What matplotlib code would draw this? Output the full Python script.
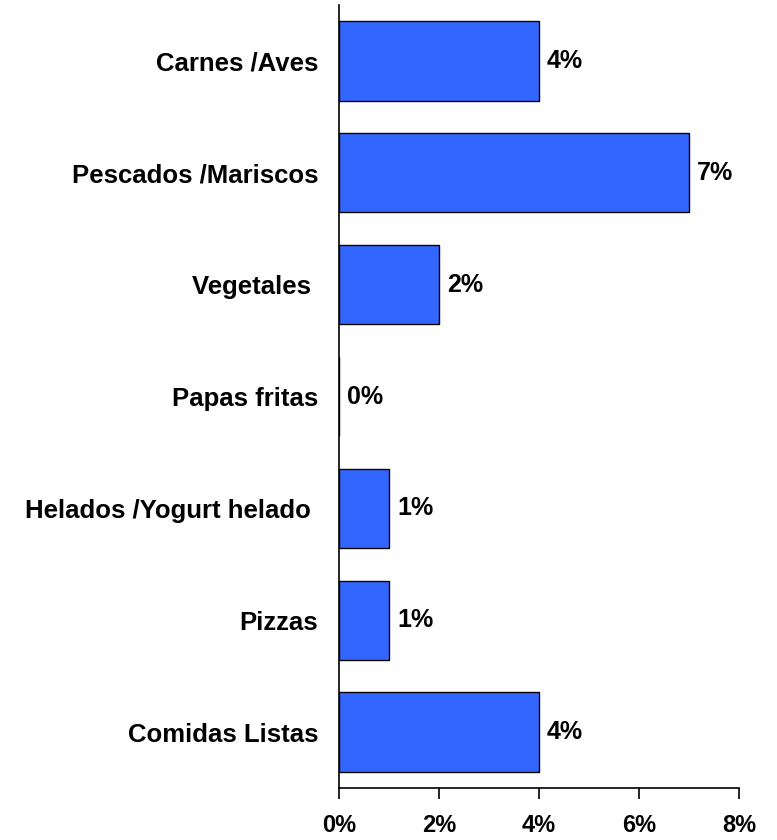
import matplotlib.pyplot as plt

categories = ['Carnes /Aves', 'Pescados /Mariscos', 'Vegetales ', 'Papas fritas',
              'Helados /Yogurt helado ', 'Pizzas', 'Comidas Listas']
values = [4, 7, 2, 0, 1, 1, 4]
xticks = [0, 2, 4, 6, 8]

plt.rcParams['font.family'] = ['Liberation Sans', 'DejaVu Sans']
plt.rcParams['font.weight'] = 'bold'

fig = plt.figure(figsize=(7.77, 8.4), dpi=100)
ax = fig.add_axes([339 / 777, 1 - 788 / 840, 400 / 777, 783 / 840])

pos = list(range(len(categories)))
ax.barh(pos, values, height=0.71, color='#3366FF', edgecolor='black', linewidth=1)

for p, v in zip(pos, values):
    ax.text(v + 0.16, p, f'{v}%', va='center', ha='left', fontsize=18, fontweight='bold')

ax.set_ylim(len(categories) - 0.5, -0.5)
ax.set_xlim(0, 8)
ax.set_yticks(pos)
ax.set_yticklabels(categories, fontsize=18.5, fontweight='bold')
ax.tick_params(axis='y', length=0, pad=15)
ax.set_xticks(xticks)
ax.set_xticklabels([f'{t}%' for t in xticks], fontsize=17, fontweight='bold')
ax.tick_params(axis='x', length=8, width=1.2, pad=11, direction='out')

for s in ['top', 'right']:
    ax.spines[s].set_visible(False)
for s in ['left', 'bottom']:
    ax.spines[s].set_linewidth(1.2)

fig.savefig('out.png', dpi=100)
